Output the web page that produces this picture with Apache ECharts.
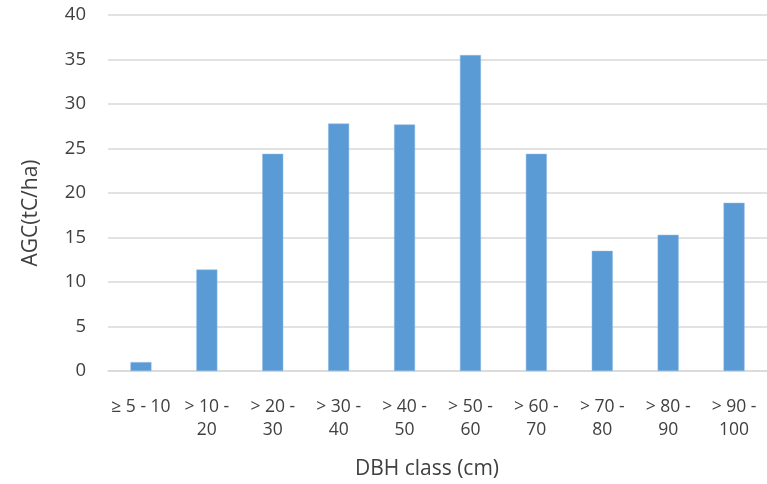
<!DOCTYPE html>
<html><head><meta charset="utf-8">
<script src="https://cdn.jsdelivr.net/npm/echarts@6/dist/echarts.min.js"></script>
<style>html,body{margin:0;padding:0;background:#fff}#c{width:767px;height:484px}</style>
</head><body><div id="c"></div>
<script>
const categories = ["≥ 5 - 10", "> 10 -\n20", "> 20 -\n30", "> 30 -\n40", "> 40 -\n50", "> 50 -\n60", "> 60 -\n70", "> 70 -\n80", "> 80 -\n90", "> 90 -\n100"];
const agcValues = [1.0, 11.4, 24.4, 27.8, 27.7, 35.5, 24.4, 13.5, 15.3, 18.9];
const yTicks = [0, 5, 10, 15, 20, 25, 30, 35, 40];
const yTitle = "AGC(tC/ha)";
const xTitle = "DBH class (cm)";

const font = "'Open Sans', 'Noto Sans', sans-serif";
const chart = echarts.init(document.getElementById('c'), null, {renderer: 'canvas'});
chart.setOption({
  animation: false,
  grid: {left: 108, right: 0, top: 15, bottom: 113, containLabel: false},
  xAxis: {
    type: 'category', data: categories,
    axisLine: {lineStyle: {color: '#d9d9d9', width: 1.5}},
    axisTick: {show: false},
    axisLabel: {color: '#404040', fontFamily: font, fontSize: 17.5, margin: 25, lineHeight: 22.5, interval: 0, verticalAlign: 'top'}
  },
  yAxis: {
    type: 'value', min: yTicks[0], max: yTicks[yTicks.length - 1], interval: 5,
    axisLine: {show: false}, axisTick: {show: false},
    splitLine: {lineStyle: {color: '#d9d9d9', width: 1.5}},
    axisLabel: {color: '#404040', fontFamily: font, fontSize: 18.5, margin: 22}
  },
  graphic: [
    {type: 'text', rotation: Math.PI / 2, x: 31, y: 213, style: {text: yTitle, fill: '#404040', font: '21px ' + font, align: 'center', verticalAlign: 'middle'}},
    {type: 'text', x: 427, y: 469, style: {text: xTitle, fill: '#404040', font: '21px ' + font, align: 'center', verticalAlign: 'middle'}}
  ],
  series: [{
    type: 'bar', data: agcValues, barWidth: 21,
    itemStyle: {color: '#5b9bd5', borderColor: '#8db8e3', borderWidth: 0.5}
  }]
});
</script></body></html>
